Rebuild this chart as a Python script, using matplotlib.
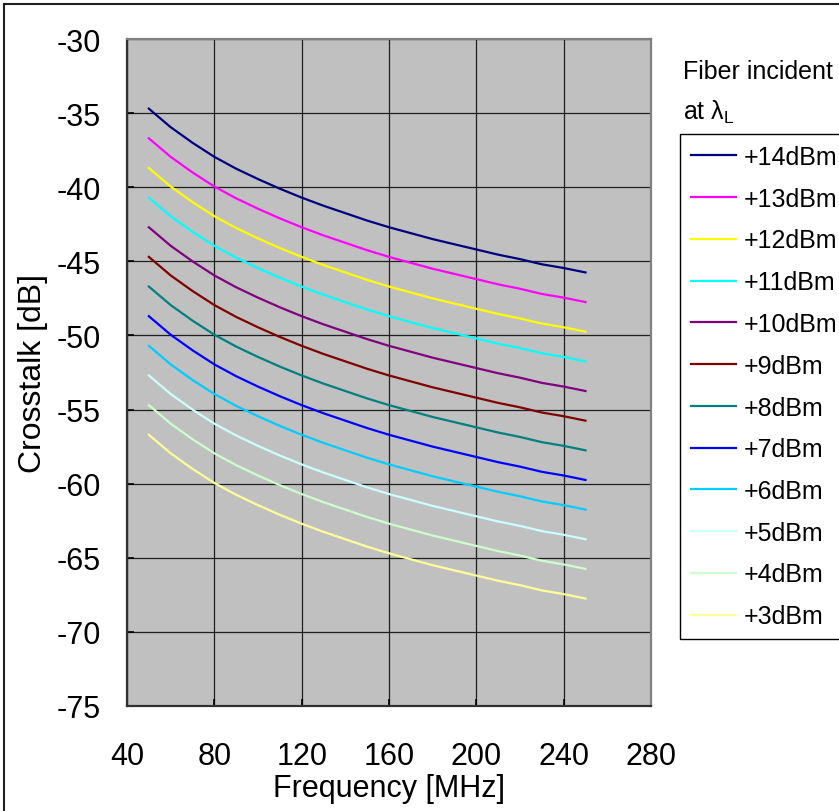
import matplotlib
matplotlib.use("Agg")
import matplotlib.pyplot as plt
from matplotlib.lines import Line2D

plt.rcParams['font.family'] = ['Liberation Sans', 'DejaVu Sans']
plt.rcParams['axes.unicode_minus'] = False

# Frequency axis [MHz]
freq = [50, 60, 70, 80, 90, 100, 110, 120, 130, 140, 150,
        160, 170, 180, 190, 200, 210, 220, 230, 240, 250]

# Crosstalk [dB] for each fiber incident power
p14 = [-34.7, -35.95, -37.0, -37.95, -38.75, -39.45, -40.1, -40.7, -41.25, -41.75, -42.25,
       -42.7, -43.1, -43.5, -43.85, -44.2, -44.55, -44.85, -45.2, -45.45, -45.75]
p13 = [-36.7, -37.95, -39.0, -39.95, -40.75, -41.45, -42.1, -42.7, -43.25, -43.75, -44.25,
       -44.7, -45.1, -45.5, -45.85, -46.2, -46.55, -46.85, -47.2, -47.45, -47.75]
p12 = [-38.7, -39.95, -41.0, -41.95, -42.75, -43.45, -44.1, -44.7, -45.25, -45.75, -46.25,
       -46.7, -47.1, -47.5, -47.85, -48.2, -48.55, -48.85, -49.2, -49.45, -49.75]
p11 = [-40.7, -41.95, -43.0, -43.95, -44.75, -45.45, -46.1, -46.7, -47.25, -47.75, -48.25,
       -48.7, -49.1, -49.5, -49.85, -50.2, -50.55, -50.85, -51.2, -51.45, -51.75]
p10 = [-42.7, -43.95, -45.0, -45.95, -46.75, -47.45, -48.1, -48.7, -49.25, -49.75, -50.25,
       -50.7, -51.1, -51.5, -51.85, -52.2, -52.55, -52.85, -53.2, -53.45, -53.75]
p9 = [-44.7, -45.95, -47.0, -47.95, -48.75, -49.45, -50.1, -50.7, -51.25, -51.75, -52.25,
      -52.7, -53.1, -53.5, -53.85, -54.2, -54.55, -54.85, -55.2, -55.45, -55.75]
p8 = [-46.7, -47.95, -49.0, -49.95, -50.75, -51.45, -52.1, -52.7, -53.25, -53.75, -54.25,
      -54.7, -55.1, -55.5, -55.85, -56.2, -56.55, -56.85, -57.2, -57.45, -57.75]
p7 = [-48.7, -49.95, -51.0, -51.95, -52.75, -53.45, -54.1, -54.7, -55.25, -55.75, -56.25,
      -56.7, -57.1, -57.5, -57.85, -58.2, -58.55, -58.85, -59.2, -59.45, -59.75]
p6 = [-50.7, -51.95, -53.0, -53.95, -54.75, -55.45, -56.1, -56.7, -57.25, -57.75, -58.25,
      -58.7, -59.1, -59.5, -59.85, -60.2, -60.55, -60.85, -61.2, -61.45, -61.75]
p5 = [-52.7, -53.95, -55.0, -55.95, -56.75, -57.45, -58.1, -58.7, -59.25, -59.75, -60.25,
      -60.7, -61.1, -61.5, -61.85, -62.2, -62.55, -62.85, -63.2, -63.45, -63.75]
p4 = [-54.7, -55.95, -57.0, -57.95, -58.75, -59.45, -60.1, -60.7, -61.25, -61.75, -62.25,
      -62.7, -63.1, -63.5, -63.85, -64.2, -64.55, -64.85, -65.2, -65.45, -65.75]
p3 = [-56.7, -57.95, -59.0, -59.95, -60.75, -61.45, -62.1, -62.7, -63.25, -63.75, -64.25,
      -64.7, -65.1, -65.5, -65.85, -66.2, -66.55, -66.85, -67.2, -67.45, -67.75]

series = [p14, p13, p12, p11, p10, p9, p8, p7, p6, p5, p4, p3]
labels = ['+14dBm', '+13dBm', '+12dBm', '+11dBm', '+10dBm', '+9dBm',
          '+8dBm', '+7dBm', '+6dBm', '+5dBm', '+4dBm', '+3dBm']
colors = ['#000080', '#FF00FF', '#FFFF00', '#00FFFF', '#800080', '#800000',
          '#008080', '#0000FF', '#00CCFF', '#CCFFFF', '#CCFFCC', '#FFFF99']

xticks = [40, 80, 120, 160, 200, 240, 280]
yticks = [-30, -35, -40, -45, -50, -55, -60, -65, -70, -75]

W, H = 839, 812
fig = plt.figure(figsize=(W / 100, H / 100), dpi=100)
ax = fig.add_axes([127 / W, 1 - 707 / H, (651 - 127) / W, (707 - 40) / H])
ax.set_facecolor('#C0C0C0')

for y, lab, c in zip(series, labels, colors):
    ax.plot(freq, y, color=c, lw=1.6, label=lab)

ax.set_xlim(40, 280)
ax.set_ylim(-75, -30)
ax.set_xticks(xticks)
ax.set_yticks(yticks)
ax.set_axisbelow(True)
ax.grid(True, color='#202020', lw=0.9)
ax.tick_params(direction='in', length=5, width=1.2, labelsize=22)
ax.tick_params(axis='y', pad=19)
ax.tick_params(axis='x', pad=25)
for s in ['left', 'bottom']:
    ax.spines[s].set_color('#303030')
    ax.spines[s].set_linewidth(1.6)
for s in ['top', 'right']:
    ax.spines[s].set_color('#808080')
    ax.spines[s].set_linewidth(1.6)

ax.set_xlabel('Frequency [MHz]', fontsize=22, va='top')
ax.set_ylabel('Crosstalk [dB]', fontsize=23)
ax.xaxis.set_label_coords(0.5, -0.100)
ax.yaxis.set_label_coords(-0.150, 0.5)

# legend sits partly beyond the right edge, as in the original chart
leg = ax.legend(loc='upper left', bbox_to_anchor=(680 / W, 1 - 135 / H),
                bbox_transform=fig.transFigure, borderaxespad=0,
                fontsize=18, handlelength=1.8, handletextpad=0.3,
                labelspacing=0.71, borderpad=0.44, fancybox=False,
                framealpha=1, edgecolor='black')
leg.get_frame().set_linewidth(1.0)

fig.text(683 / W, 1 - 72 / H, 'Fiber incident', fontsize=18, va='center', ha='left')
fig.text(683 / W, 1 - 112 / H, r'at $\mathregular{λ_L}$', fontsize=18, va='center', ha='left')

# outer chart frame (left and top edges visible)
fig.add_artist(Line2D([4 / W, 4 / W], [0, 1 - 5 / H], color='#202020', lw=1.5))
fig.add_artist(Line2D([4 / W, 1], [1 - 5 / H, 1 - 5 / H], color='#202020', lw=1.5))

fig.savefig('out.png', dpi=100)
